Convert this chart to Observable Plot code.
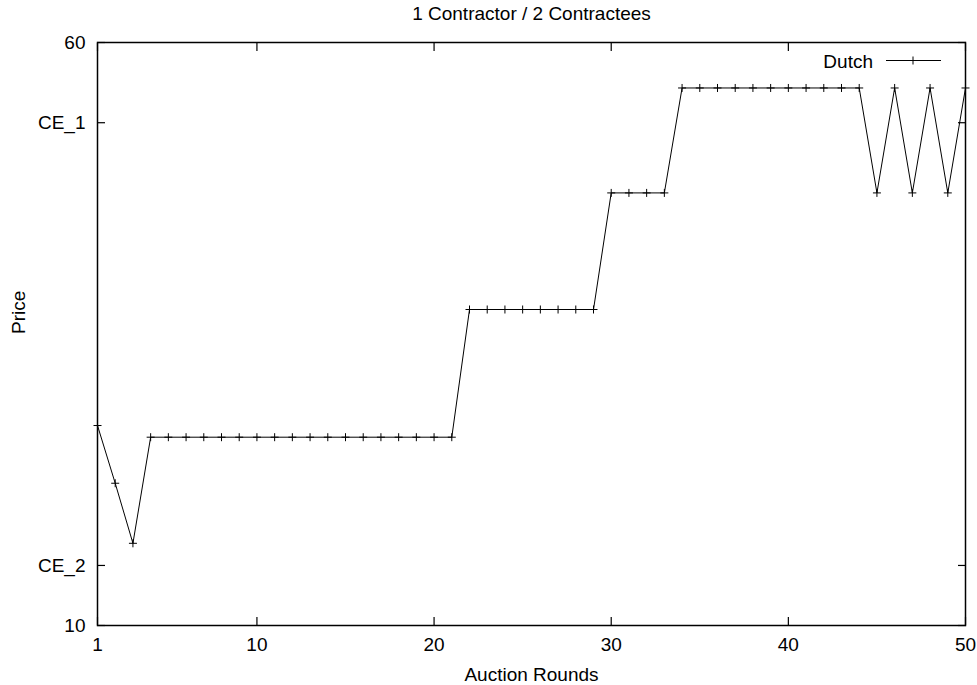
<!DOCTYPE html>
<html>
<head>
<meta charset="utf-8">
<script src="https://cdn.jsdelivr.net/npm/d3@7"></script>
<script src="https://cdn.jsdelivr.net/npm/@observablehq/plot@0.6"></script>
<style>
  html, body { margin: 0; padding: 0; background: #fff; }
  #wrap { position: relative; width: 977px; height: 685px; font-family: "Liberation Sans", Arial, sans-serif; }
  #legend { position: absolute; left: 800px; top: 50px; }
</style>
</head>
<body>
<div id="wrap"></div>
<script>
// ---- data ----
const rounds = [1,2,3,4,5,6,7,8,9,10,11,12,13,14,15,16,17,18,19,20,21,22,23,24,25,26,27,28,29,30,31,32,33,34,35,36,37,38,39,40,41,42,43,44,45,46,47,48,49,50];
const prices = [27.15, 22.2, 17.05,
  26.15, 26.15, 26.15, 26.15, 26.15, 26.15, 26.15, 26.15, 26.15, 26.15, 26.15, 26.15, 26.15, 26.15, 26.15, 26.15, 26.15, 26.15,
  37.1, 37.1, 37.1, 37.1, 37.1, 37.1, 37.1, 37.1,
  47.1, 47.1, 47.1, 47.1,
  56.1, 56.1, 56.1, 56.1, 56.1, 56.1, 56.1, 56.1, 56.1, 56.1, 56.1,
  47.1, 56.1, 47.1, 56.1, 47.1, 56.1];
const xTicks = [1, 10, 20, 30, 40, 50];
const yTickValues = [10, 15.15, 53.12, 60];
const yTickLabels = ["10", "CE_2", "CE_1", "60"];
const seriesName = "Dutch";
const title = "1 Contractor / 2 Contractees";
const xLabel = "Auction Rounds";
const yLabel = "Price";

const data = rounds.map((r, i) => ({round: r, price: prices[i]}));

const plusSymbol = {
  draw(context, size) {
    const r = Math.sqrt(size / Math.PI);
    context.moveTo(-r, 0); context.lineTo(r, 0);
    context.moveTo(0, -r); context.lineTo(0, r);
  }
};

const yFmt = d => yTickLabels[yTickValues.indexOf(d)];
const FS = 19;

const chart = Plot.plot({
  width: 977,
  height: 685,
  marginLeft: 97,
  marginRight: 12,
  marginTop: 42,
  marginBottom: 60,
  style: {fontFamily: "'Liberation Sans', Arial, sans-serif", fontSize: FS + "px", color: "#000", background: "#fff"},
  x: {domain: [1, 50]},
  y: {domain: [10, 60]},
  marks: [
    Plot.axisX({anchor: "bottom", ticks: xTicks, tickSize: -8, tickPadding: 20, tickFormat: d => String(d), label: null, fontSize: FS, strokeWidth: 1.2}),
    Plot.axisX({anchor: "top", ticks: xTicks, tickSize: -8, tickFormat: () => "", label: null, strokeWidth: 1.2}),
    Plot.axisY({anchor: "left", ticks: yTickValues, tickSize: -8, tickPadding: 20, tickFormat: yFmt, label: null, fontSize: FS, strokeWidth: 1.2}),
    Plot.axisY({anchor: "right", ticks: yTickValues, tickSize: -8, tickFormat: () => "", label: null, strokeWidth: 1.2}),
    Plot.frame({stroke: "#000", strokeWidth: 1.5}),
    Plot.line(data, {x: "round", y: "price", stroke: "#000", strokeWidth: 1}),
    Plot.dot(data, {x: "round", y: "price", symbol: plusSymbol, r: 4, stroke: "#000", strokeWidth: 1, fill: "none"}),
    Plot.text([title], {frameAnchor: "top", dy: -29, text: d => d, fontSize: FS, lineAnchor: "middle"}),
    Plot.text([xLabel], {frameAnchor: "bottom", dy: 49, text: d => d, fontSize: FS, lineAnchor: "middle"}),
    Plot.text([yLabel], {frameAnchor: "left", dx: -79, rotate: -90, text: d => d, fontSize: FS, lineAnchor: "middle"})
  ]
});

const wrap = document.getElementById("wrap");
wrap.appendChild(chart);

// legend overlay (key box)
const ns = "http://www.w3.org/2000/svg";
const lg = document.createElementNS(ns, "svg");
lg.setAttribute("id", "legend");
lg.setAttribute("width", "150");
lg.setAttribute("height", "22");
lg.innerHTML = `
  <text x="73" y="11" text-anchor="end" dominant-baseline="central" font-size="${FS}" font-family="Liberation Sans, Arial, sans-serif" fill="#000">${seriesName}</text>
  <line x1="86" x2="141" y1="10.5" y2="10.5" stroke="#000" stroke-width="1"/>
  <path d="M113,6.5V14.5M109,10.5H117" stroke="#000" stroke-width="1"/>`;
wrap.appendChild(lg);
</script>
</body>
</html>
